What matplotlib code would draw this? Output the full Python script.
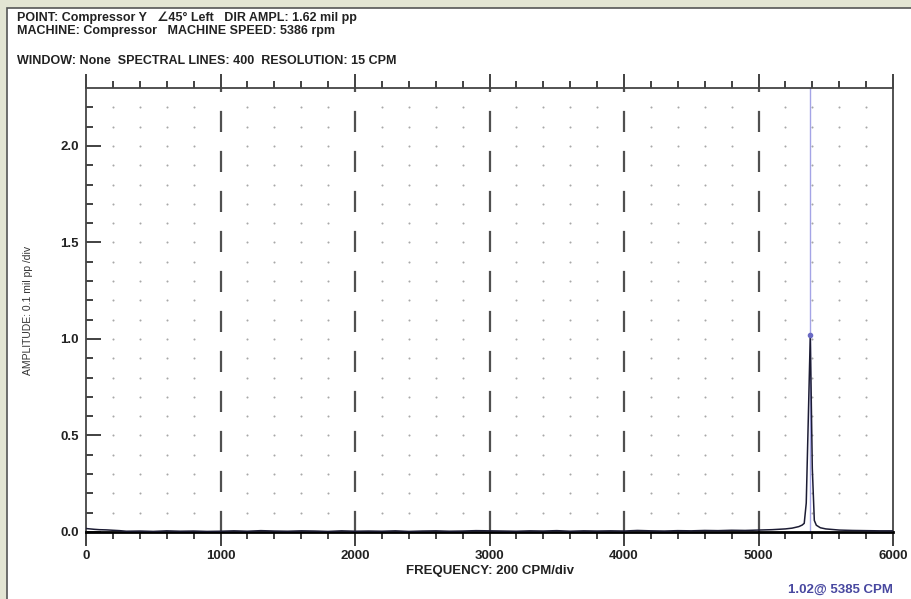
import numpy as np
import matplotlib
matplotlib.use('Agg')
import matplotlib.pyplot as plt
from matplotlib.patches import Rectangle

# spectrum data (CPM, mil pp)
floor_cpm = [0, 30, 60, 100, 150, 200, 250, 300, 400, 500, 600, 700, 800, 900,
             1000, 1100, 1200, 1300, 1400, 1500, 1600, 1700, 1800, 1900,
             2000, 2100, 2200, 2300, 2400, 2500, 2600, 2700, 2800, 2900,
             3000, 3100, 3200, 3300, 3400, 3500, 3600, 3700, 3800, 3900,
             4000, 4100, 4200, 4300, 4400, 4500, 4600, 4700, 4800, 4900,
             5000, 5100, 5200, 5250]
floor_amp = [0.018, 0.016, 0.014, 0.012, 0.011, 0.009, 0.007, 0.004, 0.005, 0.003,
             0.006, 0.004, 0.005, 0.003, 0.004, 0.006, 0.004, 0.007, 0.005, 0.004,
             0.006, 0.005, 0.003, 0.006, 0.004, 0.005, 0.004, 0.006, 0.003, 0.005,
             0.006, 0.004, 0.005, 0.007, 0.006, 0.005, 0.004, 0.006, 0.005, 0.007,
             0.004, 0.006, 0.005, 0.006, 0.005, 0.008, 0.006, 0.005, 0.007, 0.006,
             0.008, 0.007, 0.009, 0.008, 0.010, 0.012, 0.016, 0.020]
peak_cpm = [5300, 5325, 5340, 5355, 5370, 5385, 5400, 5415, 5430, 5460, 5500]
peak_amp = [0.028, 0.036, 0.045, 0.15, 0.58, 1.02, 0.33, 0.06, 0.035, 0.022, 0.016]
tail_cpm = [5600, 5700, 5800, 5900, 6000]
tail_amp = [0.010, 0.008, 0.007, 0.006, 0.006]

cursor_cpm = 5385
cursor_amp = 1.02

freq = floor_cpm + peak_cpm + tail_cpm
amp = floor_amp + peak_amp + tail_amp

xmax, ymax = 6000, 2.3
xticks_major = [0, 1000, 2000, 3000, 4000, 5000, 6000]
yticks_major = [0.0, 0.5, 1.0, 1.5, 2.0]

plt.rcParams['font.family'] = ['Liberation Sans', 'DejaVu Sans']

fig = plt.figure(figsize=(9.11, 5.99), dpi=100)
fig.patch.set_facecolor('#e3e5d3')
# white panel with dark inset edge
fig.patches.append(Rectangle((7/911, -0.01), 1, 1.01 - 8/599, transform=fig.transFigure,
                             facecolor='white', edgecolor='#555555', lw=1.2, zorder=-5))

ax = fig.add_axes([86/911, 1 - 532/599, (893 - 86)/911, (532 - 88)/599])
ax.set_zorder(2)
ax.set_xlim(0, xmax)
ax.set_ylim(0, ymax)
ax.patch.set_alpha(0)

for s in ['left', 'top', 'right']:
    ax.spines[s].set_color('#444444')
    ax.spines[s].set_linewidth(1.3)
ax.spines['bottom'].set_color('black')
ax.spines['bottom'].set_linewidth(2)

# dotted grid
gx = [x for x in range(200, 6000, 200) if x % 1000]
gy = np.arange(1, 23) / 10
GX, GY = np.meshgrid(gx, gy)
ax.scatter(GX.ravel(), GY.ravel(), s=2.2, color='#a8a8a8', lw=0, zorder=1)

# dashed major lines
for x in xticks_major[1:-1]:
    ax.axvline(x, color='#505050', lw=1.6, ls=(0, (9.5, 8.5)), zorder=1)

# ticks
ax.set_xticks(xticks_major)
ax.set_xticks(range(0, 6001, 200), minor=True)
ax.set_yticks(yticks_major)
ax.set_yticks(np.arange(0, 23) / 10, minor=True)
ax.set_xticklabels([str(x) for x in xticks_major])
ax.set_yticklabels(['%.1f' % y for y in yticks_major])
ax.tick_params(axis='x', which='both', direction='out', top=True, bottom=True,
               color='#333333', width=1.3)
ax.tick_params(axis='x', which='major', length=10, pad=3)
ax.tick_params(axis='x', which='minor', length=5)
ax.tick_params(axis='y', which='both', direction='in', left=True, right=False,
               color='#333333', width=1.3)
ax.tick_params(axis='y', which='major', length=11, pad=5)
ax.tick_params(axis='y', which='minor', length=5)
for lab in ax.get_xticklabels() + ax.get_yticklabels():
    lab.set_fontweight('bold')
    lab.set_fontsize(9.5)
    lab.set_color('#222222')

# cursor
ax.axvline(cursor_cpm, color='#a4a4e6', lw=1, zorder=2)
ax.plot([cursor_cpm], [cursor_amp], 'o', ms=3, color='#6a6ac4', zorder=4)

# spectrum
ax.plot(freq, amp, color='#1c1c34', lw=1.1, zorder=3)

ax.set_xlabel('FREQUENCY: 200 CPM/div', fontsize=9.5, fontweight='bold', color='#222222',
              labelpad=2)
ax.set_ylabel('AMPLITUDE: 0.1 mil pp /div', fontsize=7.5, color='#333333', labelpad=20)

# header texts
hdr = dict(fontsize=9, fontweight='bold', color='#222222', va='center', ha='left')
fig.text(17/911, 1 - 18/599, 'POINT: Compressor Y   \u222045\u00b0 Left   DIR AMPL: 1.62 mil pp', **hdr)
fig.text(17/911, 1 - 31/599, 'MACHINE: Compressor   MACHINE SPEED: 5386 rpm', **hdr)
fig.text(17/911, 1 - 61/599, 'WINDOW: None  SPECTRAL LINES: 400  RESOLUTION: 15 CPM', **hdr)
fig.text(893/911, 1 - 590/599, '%.2f@ %d CPM' % (cursor_amp, cursor_cpm), fontsize=9.5,
         fontweight='bold', color='#4848a0', ha='right', va='center')

fig.savefig('out.png', dpi=100, facecolor=fig.get_facecolor())
